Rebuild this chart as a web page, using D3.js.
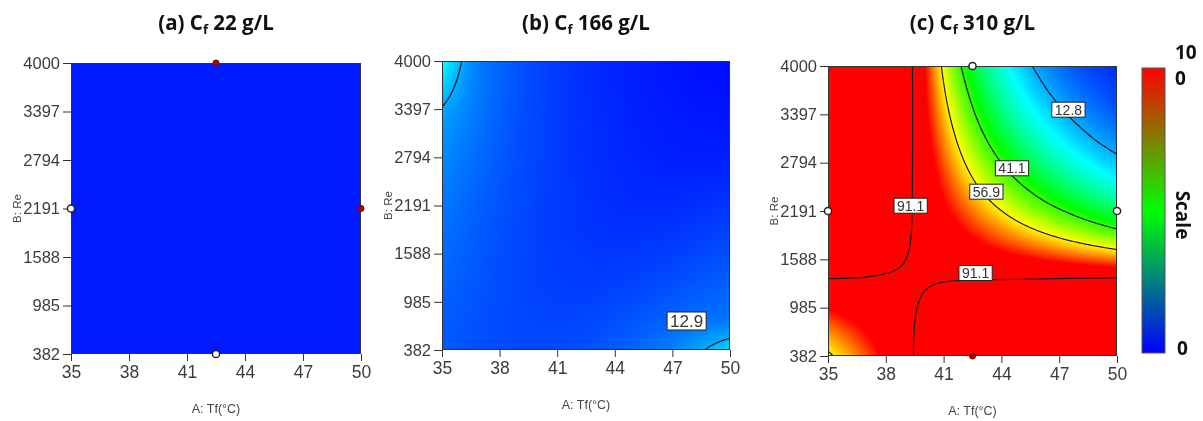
<!DOCTYPE html>
<html><head><meta charset="utf-8">
<script src="https://cdn.jsdelivr.net/npm/d3@7"></script>
<style>
body{margin:0;background:#fff;}
#wrap{position:relative;width:1203px;height:421px;overflow:hidden;background:#fff;}
canvas,svg{position:absolute;left:0;top:0;}
</style></head><body>
<div id="wrap"><canvas id="cv" width="1203" height="421"></canvas><svg id="sv" width="1203" height="421"></svg></div>
<script>
// ---------------- data ----------------
const tempGrid = [35, 36.5, 38, 39.5, 41, 42.5, 44, 45.5, 47, 48.5, 50];          // A: Tf (°C)
const reGrid = [382, 743.8, 1105.6, 1467.4, 1829.2, 2191, 2552.8, 2914.6, 3276.4, 3638.2, 4000]; // B: Re
const xTicks = [35, 38, 41, 44, 47, 50];
const yTicks = [382, 985, 1588, 2191, 2794, 3397, 4000];

// response values, rows = reGrid (bottom to top), columns = tempGrid
const valuesA = [
  [2.0,2.0,2.0,2.0,2.0,2.0,2.0,2.0,2.0,2.0,2.0],
  [2.0,2.0,2.0,2.0,2.0,2.0,2.0,2.0,2.0,2.0,2.0],
  [2.0,2.0,2.0,2.0,2.0,2.0,2.0,2.0,2.0,2.0,2.0],
  [2.0,2.0,2.0,2.0,2.0,2.0,2.0,2.0,2.0,2.0,2.0],
  [2.0,2.0,2.0,2.0,2.0,2.0,2.0,2.0,2.0,2.0,2.0],
  [2.0,2.0,2.0,2.0,2.0,2.0,2.0,2.0,2.0,2.0,2.0],
  [2.0,2.0,2.0,2.0,2.0,2.0,2.0,2.0,2.0,2.0,2.0],
  [2.0,2.0,2.0,2.0,2.0,2.0,2.0,2.0,2.0,2.0,2.0],
  [2.0,2.0,2.0,2.0,2.0,2.0,2.0,2.0,2.0,2.0,2.0],
  [2.0,2.0,2.0,2.0,2.0,2.0,2.0,2.0,2.0,2.0,2.0],
  [2.0,2.0,2.0,2.0,2.0,2.0,2.0,2.0,2.0,2.0,2.0]
];
const valuesB = [
  [6.5, 5.9, 5.5, 5.3, 5.4, 5.9, 6.7, 7.9, 9.6, 12.5, 16.0],
  [6.9, 6.1, 5.5, 5.1, 5.0, 5.2, 5.8, 6.6, 7.5, 8.5, 9.0],
  [7.3, 6.4, 5.6, 5.0, 4.7, 4.6, 4.9, 5.4, 6.1, 6.8, 7.4],
  [7.8, 6.7, 5.7, 5.0, 4.5, 4.2, 4.2, 4.5, 5.0, 5.6, 6.2],
  [8.3, 7.0, 5.9, 5.0, 4.3, 3.9, 3.7, 3.7, 4.0, 4.5, 5.1],
  [8.9, 7.4, 6.1, 5.1, 4.3, 3.7, 3.3, 3.1, 3.2, 3.5, 4.0],
  [9.6, 7.9, 6.4, 5.2, 4.3, 3.6, 3.1, 2.8, 2.6, 2.7, 2.9],
  [10.5, 8.5, 6.7, 5.3, 4.3, 3.5, 2.9, 2.5, 2.2, 2.1, 2.1],
  [11.8, 9.2, 7.0, 5.4, 4.3, 3.5, 2.8, 2.3, 1.9, 1.7, 1.6],
  [15.0, 9.8, 7.3, 5.5, 4.3, 3.4, 2.7, 2.1, 1.7, 1.4, 1.2],
  [19.5, 10.5, 7.5, 5.5, 4.2, 3.3, 2.6, 2.0, 1.5, 1.1, 0.8]
];
const valuesC = [
  [55.0, 65.2, 77.4, 91.8, 108.9, 129.3, 130, 130, 130, 130, 130],
  [66.5, 74.0, 82.2, 91.2, 101.8, 113.1, 125.9, 130, 130, 130, 130],
  [80.31, 83.74, 86.6, 90.3, 94.6, 99.0, 103.3, 107.6, 112.2, 117.0, 122.0],
  [97.07, 94.6, 92.0, 89.9, 88.4, 86.6, 84.7, 82.7, 80.9, 79.1, 77.3],
  [117.3, 107.5, 98.2, 90.0, 82.7, 75.8, 69.5, 63.7, 58.3, 53.4, 48.9],
  [130, 121.8, 104.7, 89.9, 77.2, 66.3, 57.0, 48.9, 42.1, 36.1, 31.0],
  [130, 130, 111.1, 89.5, 72.1, 58.0, 46.7, 37.7, 30.3, 24.4, 19.6],
  [130, 130, 118.0, 89.1, 67.3, 50.8, 38.4, 28.9, 21.8, 16.4, 12.5],
  [130, 130, 125.4, 88.7, 62.8, 44.5, 31.4, 22.2, 15.7, 11.2, 7.9],
  [130, 130, 130, 88.3, 58.6, 38.9, 25.8, 17.1, 11.4, 7.6, 5.0],
  [130, 130, 130, 88.0, 54.7, 34.0, 21.1, 13.2, 8.2, 5.1, 3.2]
];

const levelsA = [];
const levelsB = [12.9];
const levelsC = [12.8, 41.1, 56.9, 91.1];

const labelsA = [];
const labelsB = [{text: "12.9", T: 47.74, Re: 745}];
const labelsC = [
  {text: "12.8", T: 47.48, Re: 3455},
  {text: "41.1", T: 44.55, Re: 2724},
  {text: "56.9", T: 43.22, Re: 2432},
  {text: "91.1", T: 39.29, Re: 2257},
  {text: "91.1", T: 42.66, Re: 1417}
];

const pointsA = [
  {T: 42.5, Re: 4000, kind: "red"}, {T: 35, Re: 2191, kind: "white"},
  {T: 50, Re: 2191, kind: "red"}, {T: 42.5, Re: 382, kind: "white"}
];
const pointsB = [];
const pointsC = [
  {T: 42.5, Re: 4000, kind: "white"}, {T: 35, Re: 2191, kind: "white"},
  {T: 50, Re: 2191, kind: "white"}, {T: 42.5, Re: 382, kind: "red"}
];

const panelLetters = ["(a)", "(b)", "(c)"];
const cfValues = ["22", "166", "310"];
const xTitle = "A: Tf(°C)";
const yTitle = "B: Re";
const scaleTopLines = ["10", "0"];
const scaleBottom = "0";
const scaleTitle = "Scale";

// colour map of the response (blue-cyan-green-yellow-red)
const colorStops = [0, 18.75, 37.5, 56.25, 75];
const colorNames = ["#0000ff", "#00ffff", "#00ff00", "#ffff00", "#ff0000"];
// colour bar (red top, green middle, blue bottom)
const barColors = ["#ff0000", "#00ff00", "#0000ff"];

// ---------------- layout ----------------
const panels = [
  {grid: valuesA, levels: levelsA, labels: labelsA, points: pointsA, box: [71, 63, 361, 354], labelFont: 14},
  {grid: valuesB, levels: levelsB, labels: labelsB, points: pointsB, box: [442, 61, 730, 350], labelFont: 17},
  {grid: valuesC, levels: levelsC, labels: labelsC, points: pointsC, box: [828, 66, 1117, 356], labelFont: 14}
];

const svg = d3.select("#sv");
const ctx = document.getElementById("cv").getContext("2d");
ctx.fillStyle = "#fff"; ctx.fillRect(0, 0, 1203, 421);

const color = d3.scaleLinear().domain(colorStops).range(colorNames).interpolate(d3.interpolateRgb).clamp(true);
const LUTN = 2048, vmax = colorStops[colorStops.length - 1];
const lut = d3.range(LUTN).map(k => d3.rgb(color(k / (LUTN - 1) * vmax)));

function gv(grid, r, c) {
  const nR = grid.length, nC = grid[0].length;
  if (r < 0) return 2 * gv(grid, 0, c) - gv(grid, 1, c);
  if (r > nR - 1) return 2 * gv(grid, nR - 1, c) - gv(grid, nR - 2, c);
  if (c < 0) return 2 * grid[r][0] - grid[r][1];
  if (c > nC - 1) return 2 * grid[r][nC - 1] - grid[r][nC - 2];
  return grid[r][c];
}
function cubic(p0, p1, p2, p3, t) {
  return p1 + 0.5 * t * (p2 - p0 + t * (2 * p0 - 5 * p1 + 4 * p2 - p3 + t * (3 * (p1 - p2) + p3 - p0)));
}
function sample(grid, fc, fr) {
  const nR = grid.length, nC = grid[0].length;
  const c = Math.max(0, Math.min(nC - 2, Math.floor(fc)));
  const r = Math.max(0, Math.min(nR - 2, Math.floor(fr)));
  const tx = fc - c, ty = fr - r;
  const rows = [];
  for (let k = -1; k <= 2; k++) {
    rows.push(cubic(gv(grid, r + k, c - 1), gv(grid, r + k, c), gv(grid, r + k, c + 1), gv(grid, r + k, c + 2), tx));
  }
  return cubic(rows[0], rows[1], rows[2], rows[3], ty);
}

const tickFont = "'Liberation Sans', Arial, sans-serif";
const boldFont = "'Open Sans', 'Noto Sans', sans-serif";

panels.forEach((p, idx) => {
  const [x0, y0, x1, y1] = p.box;
  const W = x1 - x0, H = y1 - y0;
  const x = d3.scaleLinear().domain(d3.extent(xTicks)).range([x0, x1]);
  const y = d3.scaleLinear().domain(d3.extent(yTicks)).range([y1, y0]);
  const gx = d3.scaleLinear().domain(d3.extent(tempGrid)).range([0, tempGrid.length - 1]);
  const gy = d3.scaleLinear().domain(d3.extent(reGrid)).range([0, reGrid.length - 1]);

  const vals = new Float64Array(W * H);
  const img = ctx.createImageData(W, H);
  for (let py = 0; py < H; py++) {
    const R = y.invert(y0 + py + 0.5);
    for (let px = 0; px < W; px++) {
      const T = x.invert(x0 + px + 0.5);
      const v = sample(p.grid, gx(T), gy(R));
      const k = py * W + px;
      vals[k] = v;
      const li = Math.max(0, Math.min(LUTN - 1, Math.round(v / vmax * (LUTN - 1))));
      const c = lut[li];
      img.data[4 * k] = c.r; img.data[4 * k + 1] = c.g; img.data[4 * k + 2] = c.b; img.data[4 * k + 3] = 255;
    }
  }
  ctx.putImageData(img, x0, y0);

  const g = svg.append("g");
  const clipId = "clip" + idx;
  svg.append("clipPath").attr("id", clipId).append("rect")
    .attr("x", x0 + 1).attr("y", y0 + 1).attr("width", W - 2).attr("height", H - 2);

  // contours
  if (p.levels.length) {
    const cx = d3.scaleLinear().domain([0, W]).range([x0, x1]);
    const cy = d3.scaleLinear().domain([0, H]).range([y0, y1]);
    const path = d3.geoPath(d3.geoTransform({point(a, b) { this.stream.point(cx(a), cy(b)); }}));
    const conts = d3.contours().size([W, H]).thresholds(p.levels)(Array.from(vals));
    g.append("g").attr("clip-path", `url(#${clipId})`)
      .selectAll("path").data(conts).join("path")
      .attr("d", path).attr("fill", "none").attr("stroke", "#1a1a1a").attr("stroke-width", 1.2);
  }

  // frame
  g.append("rect").attr("x", x0 + 0.5).attr("y", y0 + 0.5).attr("width", W - 1).attr("height", H - 1)
    .attr("fill", "none").attr("stroke", "#333").attr("stroke-width", 1);

  // axes
  const ax = g.append("g").attr("transform", `translate(0,${y1})`)
    .call(d3.axisBottom(x).tickValues(xTicks).tickSize(7).tickPadding(5).tickFormat(d3.format("d")));
  const ay = g.append("g").attr("transform", `translate(${x0},0)`)
    .call(d3.axisLeft(y).tickValues(yTicks).tickSize(8).tickPadding(3).tickFormat(d3.format("d")));
  [ax, ay].forEach(a => {
    a.select(".domain").remove();
    a.selectAll("line").attr("stroke", "#333");
    a.selectAll("text").attr("fill", "#3c3c3c").style("font-family", tickFont);
  });
  ax.selectAll("text").style("font-size", "17.5px");
  ay.selectAll("text").style("font-size", "16.5px");

  // axis titles
  g.append("text").attr("x", (x0 + x1) / 2).attr("y", y1 + 59).attr("text-anchor", "middle")
    .style("font-family", tickFont).style("font-size", "12.5px").attr("fill", "#444").text(xTitle);
  g.append("text").attr("transform", `translate(${x0 - 50},${(y0 + y1) / 2}) rotate(-90)`)
    .attr("text-anchor", "middle")
    .style("font-family", tickFont).style("font-size", "11.5px").attr("fill", "#444").text(yTitle);

  // contour labels
  p.labels.forEach(l => {
    const lg = g.append("g").attr("transform", `translate(${x(l.T)},${y(l.Re)})`);
    const t = lg.append("text").attr("text-anchor", "middle").attr("dy", "0.36em")
      .style("font-family", tickFont).style("font-size", p.labelFont + "px").attr("fill", "#333").text(l.text);
    const w = t.node().getComputedTextLength() + 6, h = p.labelFont + 1;
    lg.insert("rect", "text").attr("x", -w / 2).attr("y", -h / 2).attr("width", w).attr("height", h)
      .attr("fill", "#fff").attr("stroke", "#222").attr("stroke-width", 1);
  });

  // design points
  g.selectAll("circle.pt").data(p.points).join("circle").attr("class", "pt")
    .attr("cx", d => x(d.T)).attr("cy", d => y(d.Re))
    .attr("r", d => d.kind === "red" ? 3 : 3.6)
    .attr("fill", d => d.kind === "red" ? "#b40000" : "#fff")
    .attr("stroke", d => d.kind === "red" ? "#6a0000" : "#222")
    .attr("stroke-width", d => d.kind === "red" ? 1 : 1.5);

  // title
  const tt = svg.append("text").attr("x", (x0 + x1) / 2).attr("y", 30).attr("text-anchor", "middle")
    .style("font-family", boldFont).style("font-weight", "700").style("font-size", "20.5px").attr("fill", "#111");
  tt.append("tspan").text(panelLetters[idx] + " C");
  tt.append("tspan").attr("dy", 4).style("font-size", "13px").text("f");
  tt.append("tspan").attr("dy", -4).text(" " + cfValues[idx] + " g/L");
});

// colour bar
const bx = 1142, by0 = 68, by1 = 353, bw = 23;
const defs = svg.append("defs");
const lg = defs.append("linearGradient").attr("id", "bar").attr("x1", 0).attr("y1", 0).attr("x2", 0).attr("y2", 1);
lg.selectAll("stop").data(barColors).join("stop")
  .attr("offset", (d, i) => i / (barColors.length - 1)).attr("stop-color", d => d);
svg.append("rect").attr("x", bx).attr("y", by0).attr("width", bw).attr("height", by1 - by0)
  .attr("fill", "url(#bar)").attr("stroke", "#555").attr("stroke-width", 1);
const sFont = {fam: boldFont, size: "19px"};
svg.selectAll("text.stop").data(scaleTopLines).join("text").attr("class", "stop")
  .attr("x", 1175).attr("y", (d, i) => 59 + i * 26)
  .style("font-family", sFont.fam).style("font-weight", "700").style("font-size", sFont.size).attr("fill", "#111").text(d => d);
svg.append("text").attr("x", 1177).attr("y", 355)
  .style("font-family", sFont.fam).style("font-weight", "700").style("font-size", sFont.size).attr("fill", "#111").text(scaleBottom);
svg.append("text").attr("transform", "translate(1176,215) rotate(90)").attr("text-anchor", "middle")
  .style("font-family", sFont.fam).style("font-weight", "700").style("font-size", "19px").attr("fill", "#111").text(scaleTitle);
</script>
</body></html>
